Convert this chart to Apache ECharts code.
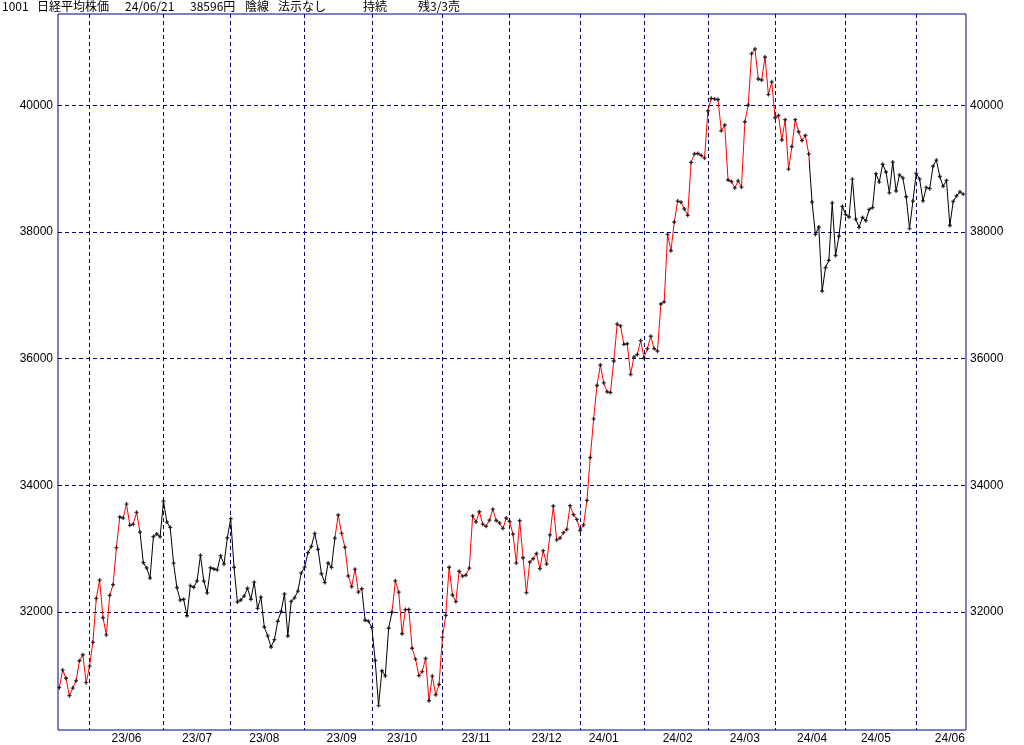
<!DOCTYPE html>
<html>
<head>
<meta charset="utf-8">
<script src="https://cdn.jsdelivr.net/npm/echarts@6/dist/echarts.min.js"></script>
<style>html,body{margin:0;padding:0;background:#fff}#c{width:1024px;height:745px}</style>
</head>
<body>
<div id="c"></div>
<script>
// ---------------- DATA ----------------
const dates = [
'23/05/19','23/05/22','23/05/23','23/05/24','23/05/25','23/05/26','23/05/29','23/05/30','23/05/31',
'23/06/01','23/06/02','23/06/05','23/06/06','23/06/07','23/06/08','23/06/09','23/06/12','23/06/13','23/06/14','23/06/15','23/06/16','23/06/19','23/06/20','23/06/21','23/06/22','23/06/23','23/06/26','23/06/27','23/06/28','23/06/29','23/06/30',
'23/07/03','23/07/04','23/07/05','23/07/06','23/07/07','23/07/10','23/07/11','23/07/12','23/07/13','23/07/14','23/07/18','23/07/19','23/07/20','23/07/21','23/07/24','23/07/25','23/07/26','23/07/27','23/07/28','23/07/31',
'23/08/01','23/08/02','23/08/03','23/08/04','23/08/07','23/08/08','23/08/09','23/08/10','23/08/14','23/08/15','23/08/16','23/08/17','23/08/18','23/08/21','23/08/22','23/08/23','23/08/24','23/08/25','23/08/28','23/08/29','23/08/30','23/08/31',
'23/09/01','23/09/04','23/09/05','23/09/06','23/09/07','23/09/08','23/09/11','23/09/12','23/09/13','23/09/14','23/09/15','23/09/19','23/09/20','23/09/21','23/09/22','23/09/25','23/09/26','23/09/27','23/09/28','23/09/29',
'23/10/02','23/10/03','23/10/04','23/10/05','23/10/06','23/10/10','23/10/11','23/10/12','23/10/13','23/10/16','23/10/17','23/10/18','23/10/19','23/10/20','23/10/23','23/10/24','23/10/25','23/10/26','23/10/27','23/10/30','23/10/31',
'23/11/01','23/11/02','23/11/06','23/11/07','23/11/08','23/11/09','23/11/10','23/11/13','23/11/14','23/11/15','23/11/16','23/11/17','23/11/20','23/11/21','23/11/22','23/11/24','23/11/27','23/11/28','23/11/29','23/11/30',
'23/12/01','23/12/04','23/12/05','23/12/06','23/12/07','23/12/08','23/12/11','23/12/12','23/12/13','23/12/14','23/12/15','23/12/18','23/12/19','23/12/20','23/12/21','23/12/22','23/12/25','23/12/26','23/12/27','23/12/28','23/12/29',
'24/01/04','24/01/05','24/01/09','24/01/10','24/01/11','24/01/12','24/01/15','24/01/16','24/01/17','24/01/18','24/01/19','24/01/22','24/01/23','24/01/24','24/01/25','24/01/26','24/01/29','24/01/30','24/01/31',
'24/02/01','24/02/02','24/02/05','24/02/06','24/02/07','24/02/08','24/02/09','24/02/13','24/02/14','24/02/15','24/02/16','24/02/19','24/02/20','24/02/21','24/02/22','24/02/26','24/02/27','24/02/28','24/02/29',
'24/03/01','24/03/04','24/03/05','24/03/06','24/03/07','24/03/08','24/03/11','24/03/12','24/03/13','24/03/14','24/03/15','24/03/18','24/03/19','24/03/21','24/03/22','24/03/25','24/03/26','24/03/27','24/03/28','24/03/29',
'24/04/01','24/04/02','24/04/03','24/04/04','24/04/05','24/04/08','24/04/09','24/04/10','24/04/11','24/04/12','24/04/15','24/04/16','24/04/17','24/04/18','24/04/19','24/04/22','24/04/23','24/04/24','24/04/25','24/04/26','24/04/30',
'24/05/01','24/05/02','24/05/07','24/05/08','24/05/09','24/05/10','24/05/13','24/05/14','24/05/15','24/05/16','24/05/17','24/05/20','24/05/21','24/05/22','24/05/23','24/05/24','24/05/27','24/05/28','24/05/29','24/05/30','24/05/31',
'24/06/03','24/06/04','24/06/05','24/06/06','24/06/07','24/06/10','24/06/11','24/06/12','24/06/13','24/06/14','24/06/17','24/06/18','24/06/19','24/06/20','24/06/21'
];
const closes = [
30808,31086,30957,30682,30801,30916,31233,31328,30887,
31148,31524,32217,32506,31913,31641,32265,32434,33018,33502,33485,33706,33370,33389,33575,33264,32781,32698,32538,33193,33234,33189,
33753,33422,33338,32773,32388,32189,32203,31943,32419,32391,32493,32896,32490,32304,32700,32682,32668,32891,32759,33172,
33476,32707,32159,32192,32254,32377,32204,32473,32059,32238,31766,31626,31450,31565,31856,32010,32287,31624,32169,32226,32333,32619,
32710,32939,33036,33241,32991,32606,32467,32776,32706,33168,33533,33242,33023,32571,32402,32678,32315,32371,31872,31857,
31759,31237,30526,31075,30994,31746,32000,32494,32315,31659,32040,32042,31430,31259,30999,31062,31269,30601,30991,30696,30858,
31601,31949,32708,32271,32166,32646,32568,32585,32695,33519,33424,33585,33388,33354,33452,33625,33447,33408,33321,33486,
33431,33231,32775,33445,32858,32307,32791,32843,32926,32686,32970,32758,33219,33675,33140,33169,33254,33305,33681,33539,33464,
33288,33377,33763,34441,35049,35577,35901,35619,35477,35466,35963,36546,36517,36226,36236,35751,36026,36066,36286,
36011,36158,36354,36160,36119,36863,36897,37963,37703,38157,38487,38470,38363,38262,39098,39233,39239,39208,39166,
39910,40109,40097,40090,39598,39688,38820,38797,38695,38807,38707,39740,40003,40815,40888,40414,40398,40762,40168,40369,
39803,39838,39451,39773,38992,39347,39773,39581,39442,39523,39232,38471,37961,38079,37068,37438,37552,38460,37628,37934,38405,
38274,38236,38835,38202,38073,38229,38179,38356,38385,38920,38787,39069,38946,38617,39103,38646,38900,38855,38556,38054,38487,
38923,38837,38490,38703,38683,39038,39134,38876,38720,38814,38102,38482,38570,38633,38596
];
// signal state starting on each date (buy = red line, sell = black line)
const signalDates  = ['23/05/19','23/06/22','23/09/14','23/09/27','23/10/11','24/04/15'];
const signalStates = ['buy','sell','buy','sell','buy','sell'];
const yTicks = [32000, 34000, 36000, 38000, 40000];
const titleTexts = ['1001','日経平均株価','24/06/21','38596円','陰線','法示なし','持続','残3/3売'];

// ---------------- LAYOUT / STYLE ----------------
const yMin = 30140, yMax = 41440;
const navy = '#000080';
const titleX = [2, 37, 125, 190, 245, 278, 363, 418];
const stateColor = {buy: '#ff0000', sell: '#000000'};

const monthStart = new Set();
const labelIdx = new Set();
(function () {
  let prev = null, found = true, hasStart = false;
  dates.forEach((d, i) => {
    const m = d.slice(0, 5);
    if (m !== prev) {
      if (i > 0) { monthStart.add(i); hasStart = true; } else { hasStart = false; }
      prev = m; found = false;
    }
    if (!found && +d.slice(6) >= 16) { if (hasStart) labelIdx.add(i); found = true; }
  });
})();

const pieces = signalDates.map((d, i) => ({
  gte: dates.indexOf(d),
  lt: i + 1 < signalDates.length ? dates.indexOf(signalDates[i + 1]) : dates.length + 1,
  color: stateColor[signalStates[i]]
}));

const chart = echarts.init(document.getElementById('c'));
const labelFont = {color: '#000', fontFamily: 'Liberation Sans', fontSize: 12};
chart.setOption({
  animation: false,
  backgroundColor: '#fff',
  grid: [
    {left: 59.3, right: 60.7, top: 14, bottom: 15, show: false},
    {left: 58, right: 58, top: 14, bottom: 15, show: true, borderColor: navy, borderWidth: 1, backgroundColor: 'transparent'}
  ],
  xAxis: [
    {
      type: 'category', gridIndex: 0, data: dates, boundaryGap: false,
      axisLine: {show: false}, axisTick: {show: false},
      axisLabel: Object.assign({interval: (i) => labelIdx.has(i), formatter: (v) => v.slice(0, 5), margin: 3}, labelFont),
      splitLine: {show: true, interval: (i) => monthStart.has(i), lineStyle: {color: navy, width: 1, type: [4, 3]}}
    },
    {type: 'value', gridIndex: 1, show: false, min: 0, max: 1}
  ],
  yAxis: [
    {type: 'value', gridIndex: 0, min: yMin, max: yMax, show: false},
    {
      type: 'value', gridIndex: 1, min: yMin, max: yMax, position: 'left',
      axisLine: {show: false}, axisTick: {show: false, customValues: yTicks},
      axisLabel: Object.assign({customValues: yTicks, margin: 5, formatter: (v) => String(v)}, labelFont),
      splitLine: {show: true, lineStyle: {color: navy, width: 1, type: [4, 3]}}
    },
    {
      type: 'value', gridIndex: 1, min: yMin, max: yMax, position: 'right',
      axisLine: {show: false}, axisTick: {show: false, customValues: yTicks},
      axisLabel: Object.assign({customValues: yTicks, margin: 4, formatter: (v) => String(v)}, labelFont),
      splitLine: {show: false}
    }
  ],
  visualMap: {
    type: 'piecewise', show: false, dimension: 0, seriesIndex: 0, pieces: pieces
  },
  series: [
    {type: 'line', xAxisIndex: 0, yAxisIndex: 0, data: closes, showSymbol: false, lineStyle: {width: 1}, z: 2, silent: true},
    {type: 'scatter', xAxisIndex: 0, yAxisIndex: 0, data: closes, symbol: 'path://M0,1H3V2H0ZM1,0H2V3H1Z', symbolSize: 4, itemStyle: {color: '#000'}, z: 3, silent: true}
  ],
  graphic: titleTexts.map((t, i) => ({
    type: 'text', left: titleX[i], top: 0,
    style: {text: t, fill: '#000', font: '12px "Noto Sans CJK JP"'}
  }))
});
</script>
</body>
</html>
